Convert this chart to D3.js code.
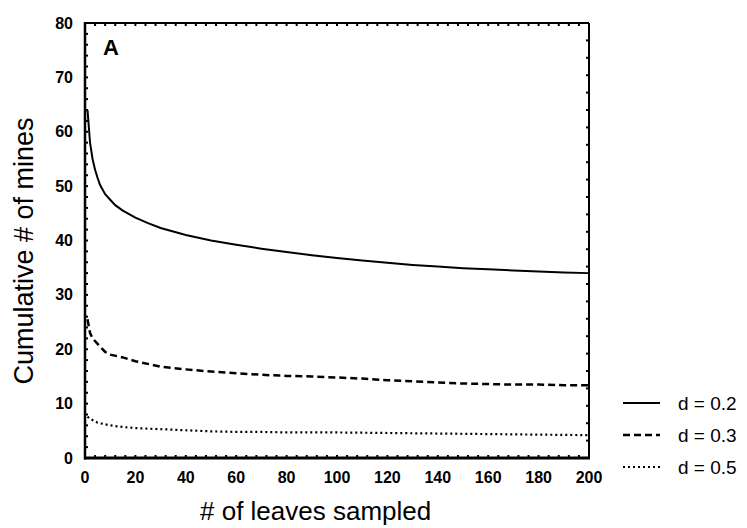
<!DOCTYPE html>
<html><head><meta charset="utf-8">
<script src="https://cdn.jsdelivr.net/npm/d3@7"></script>
<style>body{margin:0;background:#fff}</style>
</head><body><svg id="c" width="747" height="528"></svg>
<script>
const xLeaves02 = [1,2,3,4,5,6,8,10,12,15,20,25,30,40,50,60,70,80,90,100,110,120,130,140,150,160,170,180,190,200];
const mines02   = [64,58,55,53,51.5,50.2,48.5,47.5,46.5,45.5,44.2,43.2,42.3,41,40,39.2,38.5,37.9,37.3,36.8,36.3,35.9,35.5,35.2,34.9,34.7,34.5,34.3,34.1,34.0];
const xLeaves03 = [1,2,3,5,8,10,15,20,30,40,50,60,70,80,90,100,110,120,130,140,150,160,170,180,190,200];
const mines03   = [25.5,23,22,21,19.5,19,18.5,17.8,16.8,16.3,15.9,15.6,15.3,15.1,15.0,14.8,14.6,14.3,14.1,13.9,13.7,13.6,13.5,13.5,13.4,13.4];
const xLeaves05 = [1,2,5,10,15,20,30,40,50,60,70,80,100,120,140,160,180,200];
const mines05   = [7.6,7.2,6.5,6.0,5.7,5.5,5.3,5.1,4.9,4.8,4.8,4.7,4.7,4.6,4.5,4.4,4.3,4.2];
const xTicks = [0,20,40,60,80,100,120,140,160,180,200];
const yTicks = [0,10,20,30,40,50,60,70,80];
const legendLabels = ["d = 0.2","d = 0.3","d = 0.5"];

const svg = d3.select("#c");
const L=85,R=589,T=23,B=458;
const x = d3.scaleLinear().domain([0,200]).range([L,R]);
const y = d3.scaleLinear().domain([0,80]).range([B,T]);
const tickFont = "'Liberation Sans Narrow','Arial Narrow','Liberation Sans',Arial,sans-serif";

// minor/major inward ticks
const g = svg.append("g");
const xs = d3.range(0,201,4), ys = d3.range(0,81,2), yr = d3.range(0,80.01,3.2);
g.selectAll(".tb").data(xs).join("line").attr("x1",d=>x(d)).attr("x2",d=>x(d)).attr("y1",B).attr("y2",B-3).attr("stroke","#000").attr("stroke-width",2);
g.selectAll(".tt").data(xs).join("line").attr("x1",d=>x(d)).attr("x2",d=>x(d)).attr("y1",T).attr("y2",T+3).attr("stroke","#000").attr("stroke-width",2);
g.selectAll(".tl").data(ys).join("line").attr("x1",L).attr("x2",L+3).attr("y1",d=>y(d)).attr("y2",d=>y(d)).attr("stroke","#000").attr("stroke-width",2);
g.selectAll(".tr").data(yr).join("line").attr("x1",R).attr("x2",R-3).attr("y1",d=>y(d)).attr("y2",d=>y(d)).attr("stroke","#000").attr("stroke-width",2);

// frame
svg.append("line").attr("x1",L).attr("x2",R).attr("y1",T).attr("y2",T).attr("stroke","#000").attr("stroke-width",2);
svg.append("line").attr("x1",R).attr("x2",R).attr("y1",T).attr("y2",B).attr("stroke","#000").attr("stroke-width",2);
svg.append("line").attr("x1",L).attr("x2",L).attr("y1",T-1).attr("y2",B+1.5).attr("stroke","#000").attr("stroke-width",2.5);
svg.append("line").attr("x1",L-1).attr("x2",R+1).attr("y1",B).attr("y2",B).attr("stroke","#000").attr("stroke-width",3);

// tick labels
svg.selectAll(".xl").data(xTicks).join("text").attr("x",d=>x(d)).attr("y",483)
  .attr("text-anchor","middle").attr("font-family",tickFont).attr("font-weight","bold").attr("font-size",16).text(d=>d);
svg.selectAll(".yl").data(yTicks).join("text").attr("x",73).attr("y",d=>y(d)+5.5)
  .attr("text-anchor","end").attr("font-family",tickFont).attr("font-weight","bold").attr("font-size",16).text(d=>d);

// axis titles
svg.append("text").attr("x",200).attr("y",520).attr("font-family","'Liberation Sans',Arial,sans-serif").attr("font-size",26).text("# of leaves sampled");
svg.append("text").attr("transform","translate(33,251) rotate(-90)").attr("text-anchor","middle")
  .attr("font-family","'Liberation Sans',Arial,sans-serif").attr("font-size",27).text("Cumulative # of mines");

// panel label
svg.append("text").attr("x",103).attr("y",55).attr("font-family","'Liberation Sans',Arial,sans-serif").attr("font-weight","bold").attr("font-size",22).text("A");

// lines
const line = d3.line().x(d=>x(d[0])).y(d=>y(d[1]));
const series = [
  {xs:xLeaves02, ys:mines02, dash:null, w:2},
  {xs:xLeaves03, ys:mines03, dash:"7,4", w:2.5},
  {xs:xLeaves05, ys:mines05, dash:"2,3", w:2.2}
];
series.forEach(s=>{
  svg.append("path").datum(s.xs.map((v,i)=>[v,s.ys[i]])).attr("d",line)
    .attr("fill","none").attr("stroke","#000").attr("stroke-width",s.w)
    .attr("stroke-dasharray",s.dash);
});

// legend
const ly = [403,435,467];
series.forEach((s,i)=>{
  svg.append("line").attr("x1",623).attr("x2",660).attr("y1",ly[i]).attr("y2",ly[i])
    .attr("stroke","#000").attr("stroke-width",s.w).attr("stroke-dasharray",s.dash);
  svg.append("text").attr("x",678).attr("y",ly[i]+7).attr("font-family","'Liberation Sans',Arial,sans-serif")
    .attr("font-size",19).text(legendLabels[i]);
});
</script></body></html>
